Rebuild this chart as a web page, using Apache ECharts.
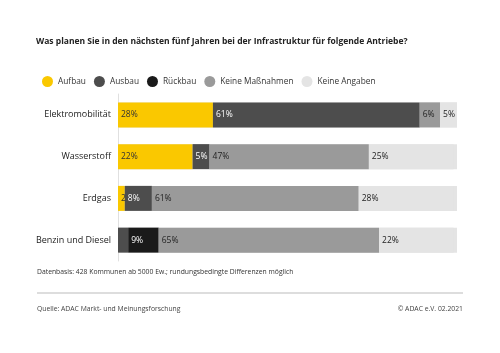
<!DOCTYPE html>
<html>
<head>
<meta charset="utf-8">
<script src="https://cdn.jsdelivr.net/npm/echarts@6/dist/echarts.min.js"></script>
<style>
  html, body { margin: 0; padding: 0; background: #fff; }
  #chart { width: 500px; height: 353px; }
</style>
</head>
<body>
<div id="chart"></div>
<script>
// data
const categories = ['Elektromobilität', 'Wasserstoff', 'Erdgas', 'Benzin und Diesel']
const seriesNames = ['Aufbau', 'Ausbau', 'Rückbau', 'Keine Maßnahmen', 'Keine Angaben']
const aufbau = [28, 22, 2, 0]
const ausbau = [61, 5, 8, 3]
const rueckbau = [0, 0, 0, 9]
const keineMassnahmen = [6, 47, 61, 65]
const keineAngaben = [5, 25, 28, 22]

const colors = ['#fac800', '#4d4d4d', '#1a1a1a', '#9a9a9a', '#e4e4e4']
const labelColors = ['#333', '#fff', '#fff', '#222', '#222']
const values = [aufbau, ausbau, rueckbau, keineMassnahmen, keineAngaben]
const font = 'Open Sans'

const chart = echarts.init(document.getElementById('chart'))

const series = seriesNames.map((name, i) => ({
  name: name,
  type: 'bar',
  stack: 'total',
  barWidth: 25,
  data: values[i],
  itemStyle: { color: colors[i] },
  showBackground: i === 4,
  backgroundStyle: { color: colors[4] },
  label: {
    show: true,
    position: 'insideLeft',
    distance: 3,
    fontFamily: font,
    fontSize: 8.5,
    color: labelColors[i],
    formatter: p => {
      if (p.value >= 4) return p.value + '%'
      if (i === 0 && p.value > 0) return String(p.value)
      return ''
    }
  }
}))

chart.setOption({
  animation: false,
  textStyle: { fontFamily: font },
  title: {
    text: 'Was planen Sie in den nächsten fünf Jahren bei der Infrastruktur für folgende Antriebe?',
    left: 31,
    top: 32,
    textStyle: { fontSize: 8.5, fontWeight: 'bold', color: '#222', fontFamily: font }
  },
  legend: {
    left: 37,
    top: 71,
    icon: 'circle',
    itemWidth: 11,
    itemHeight: 11,
    itemGap: 8,
    textStyle: { fontSize: 8.3, color: '#333', fontFamily: font },
    data: seriesNames
  },
  grid: { left: 118, right: 43, top: 94, bottom: 92 },
  xAxis: {
    type: 'value',
    min: 0,
    max: 100,
    show: false
  },
  yAxis: {
    type: 'category',
    inverse: true,
    data: categories,
    axisLine: { show: true, lineStyle: { color: '#e0e0e0' } },
    axisTick: { show: false },
    axisLabel: { fontSize: 9, color: '#222', margin: 7, fontFamily: font }
  },
  series: series,
  graphic: [
    {
      type: 'text',
      left: 37,
      top: 269,
      style: { text: 'Datenbasis: 428 Kommunen ab 5000 Ew.; rundungsbedingte Differenzen möglich', fontSize: 6.8, fill: '#333', fontFamily: font }
    },
    {
      type: 'line',
      shape: { x1: 37, y1: 293, x2: 463, y2: 293 },
      style: { stroke: '#bbb', lineWidth: 1 }
    },
    {
      type: 'text',
      left: 37,
      top: 306,
      style: { text: 'Quelle: ADAC Markt- und Meinungsforschung', fontSize: 6.8, fill: '#444', fontFamily: font }
    },
    {
      type: 'text',
      right: 37,
      top: 306,
      style: { text: '© ADAC e.V. 02.2021', fontSize: 6.8, fill: '#444', fontFamily: font }
    }
  ]
})
</script>
</body>
</html>
